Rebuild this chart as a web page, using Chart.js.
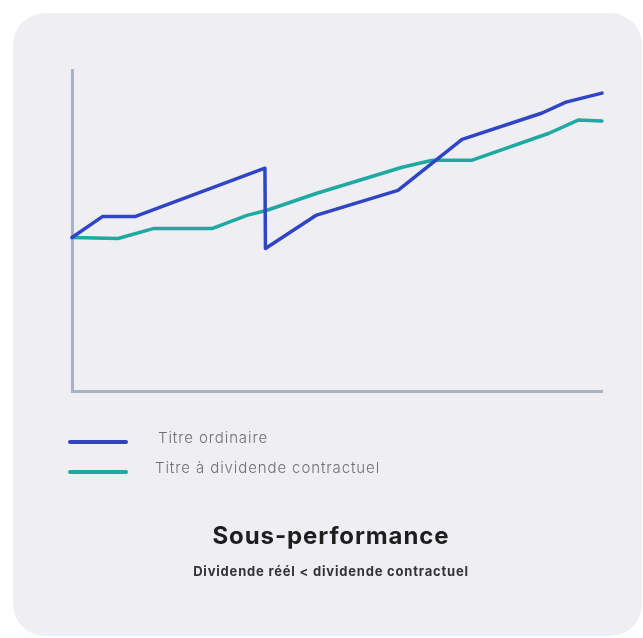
<!DOCTYPE html>
<html>
<head>
<meta charset="utf-8">
<script src="https://cdn.jsdelivr.net/npm/chart.js@4"></script>
<style>
  html, body { margin: 0; padding: 0; background: #ffffff; }
  body { width: 643px; height: 638px; position: relative; overflow: hidden; font-family: Inter, "Open Sans", sans-serif; }
  .card { position: absolute; left: 13px; top: 13px; width: 629px; height: 623px; border-radius: 32px; background: #efeff3; }
  #wrap { position: absolute; left: 0; top: 0; width: 643px; height: 638px; }
  .leg-line { position: absolute; height: 4px; border-radius: 2px; width: 60px; }
  .leg-text { position: absolute; font-size: 15px; font-weight: 300; color: #6f6f73; white-space: nowrap; letter-spacing: 0.9px; }
  .title { position: absolute; left: 13px; width: 636px; text-align: center; color: #1e1e1e; }
</style>
</head>
<body>
<div class="card"></div>
<div id="wrap"><canvas id="myChart" width="643" height="638"></canvas></div>
<div id="legend"></div>
<div class="title" style="top:521px;font-size:24px;font-weight:700;letter-spacing:0.9px;">Sous-performance</div>
<div class="title" style="top:563px;font-size:13px;font-weight:700;letter-spacing:0.8px;color:#333;">Dividende réél &lt; dividende contractuel</div>
<script>
// time position (0-100) and value (0-100)
const ordinaireX = [0, 5.8, 12, 36.4, 36.5, 46, 61.5, 73.6, 88.7, 93.2, 100];
const ordinaireY = [47.8, 54.4, 54.4, 69.4, 44.4, 54.7, 62.5, 78.4, 86.6, 90, 92.8];

const contractuelX = [0, 8.7, 15.3, 26.4, 33, 36.8, 46.2, 62.3, 68, 75.5, 90, 95.5, 100];
const contractuelY = [47.8, 47.5, 50.6, 50.6, 54.7, 56.3, 61.6, 69.7, 71.9, 71.9, 80.3, 84.4, 84.1];

const seriesLabels = ['Titre ordinaire', 'Titre à dividende contractuel'];
const seriesColors = ['#2f45c6', '#1ea9a3'];

function toPoints(xs, ys) {
    return xs.map((x, i) => ({ x: x, y: ys[i] }));
}

const data = {
    datasets: [{
        label: seriesLabels[0],
        data: toPoints(ordinaireX, ordinaireY),
        borderColor: seriesColors[0],
        borderWidth: 3.5,
        pointRadius: 0,
        borderCapStyle: 'round',
        borderJoinStyle: 'round',
        clip: false,
        tension: 0
    }, {
        label: seriesLabels[1],
        data: toPoints(contractuelX, contractuelY),
        borderColor: seriesColors[1],
        borderWidth: 3.5,
        pointRadius: 0,
        borderCapStyle: 'round',
        borderJoinStyle: 'round',
        clip: false,
        tension: 0
    }]
};

const config = {
    type: 'line',
    data: data,
    options: {
        responsive: false,
        animation: false,
        layout: { padding: { left: 64, top: 70, right: 41, bottom: 239 } },
        plugins: { legend: { display: false }, tooltip: { enabled: false } },
        scales: {
            x: {
                type: 'linear', min: 0, max: 100,
                grid: { display: false },
                ticks: { display: false },
                border: { display: true, color: '#a8b2c0', width: 3 }
            },
            y: {
                min: 0, max: 100,
                grid: { display: false },
                ticks: { display: false },
                border: { display: true, color: '#a8b2c0', width: 3 }
            }
        }
    }
};

let myChart = new Chart(document.getElementById('myChart'), config);

// html legend built from the datasets
const legend = document.getElementById('legend');
const legendRows = [442, 472];
myChart.data.datasets.forEach((ds, i) => {
    const line = document.createElement('div');
    line.className = 'leg-line';
    line.style.left = '68px';
    line.style.top = (legendRows[i] - 2) + 'px';
    line.style.background = ds.borderColor;
    legend.appendChild(line);
    const txt = document.createElement('div');
    txt.className = 'leg-text';
    txt.style.left = (i === 0 ? 158 : 155) + 'px';
    txt.style.top = (legendRows[i] - 14) + 'px';
    txt.textContent = ds.label;
    legend.appendChild(txt);
});
</script>
</body>
</html>
